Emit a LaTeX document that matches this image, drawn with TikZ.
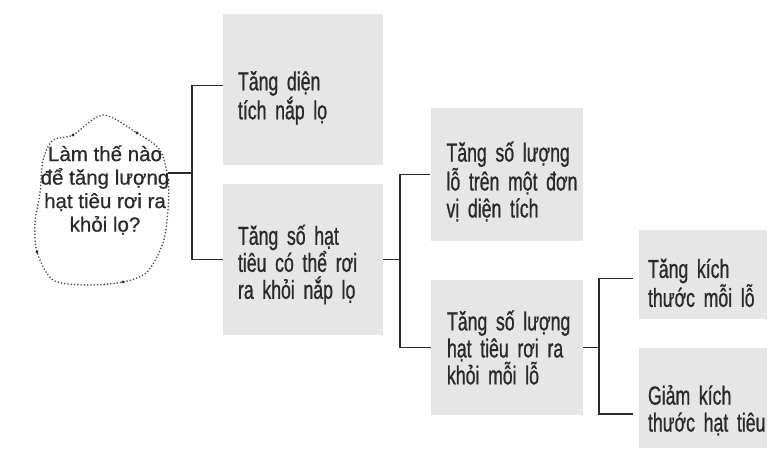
\documentclass[tikz,border=0pt]{standalone}
\usepackage{fontspec}
\XeTeXinputnormalization=1
\setmainfont{Liberation Sans}[FakeBold=0.6]
\newfontfamily\boxfont{Liberation Sans}[FakeStretch=0.68,WordSpace=0.7,FakeBold=0.8]
\usepackage{tikz}
\definecolor{boxgray}{HTML}{E6E6E6}
\definecolor{ink}{HTML}{2A2A2A}

\begin{document}
\begin{tikzpicture}[x=1pt,y=-1pt,
    box/.style={fill=boxgray,text=ink,align=left,inner xsep=0pt,text height=#1,font=\boxfont\fontsize{26}{27}\selectfont},
    box/.default=20pt,
    link/.style={line width=1.1pt,color=ink}]
              \useasboundingbox (0,0) rectangle (775,455);
              % cloud round the question
              \draw[line width=1.8pt,dash pattern=on 0pt off 3.3pt,line cap=round,color=black!70]
                plot[smooth cycle] coordinates{(73,135)(103,115)(137,133)(160,150)(168,180)(168,210)(163,243)(147,272)(123,282)(87,285)(53,280)(37,252)(35,223)(40,193)(43,160)(53,140)};
              \foreach \p in {(73,135),(137,133),(168,180),(37,252),(123,282)} \fill[ink] \p circle (1.6pt);
              \node[text=ink,align=center,font=\fontsize{20.5}{23.5}\selectfont](q)at(105,190){Làm thế nào\\để tăng lượng\\hạt tiêu rơi ra\\khỏi lọ?};
              % boxes
              \node[box=36pt,minimum width=160pt,minimum height=151pt,text width=130pt](a)at(303,89.5){Tăng~diện\\tích~nắp~lọ};
              \node[box=30pt,minimum width=160pt,minimum height=151pt,text width=130pt](b)at(303,259.5){Tăng~số~hạt\\tiêu~có~thể~rơi\\ra~khỏi~nắp~lọ};
              \node[box=34pt,minimum width=152pt,minimum height=133pt,text width=120pt](c)at(506.5,174.5){Tăng~số~lượng\\lỗ~trên~một~đơn\\vị~diện~tích};
              \node[box,minimum width=152pt,minimum height=135pt,text width=120pt](d)at(507,347.5){Tăng~số~lượng\\hạt~tiêu~rơi~ra\\khỏi~mỗi~lỗ};
              \node[box=36pt,minimum width=128pt,minimum height=89pt,text width=110pt](e)at(703,274.5){Tăng~kích\\thước~mỗi~lỗ};
              \node[box=44pt,minimum width=128pt,minimum height=100pt,text width=110pt](f)at(703,398){Giảm~kích\\thước~hạt~tiêu};
              % connectors
              \coordinate (qe) at (168,173);
              \coordinate (j1) at (192,173);
              \coordinate (j2) at (400,259.5);
              \coordinate (j3) at (599,347.5);
              \draw[link](qe)--(j1);
              \draw[link]([yshift=4pt]a.west)-|(j1)|-(b.west);
              \draw[link](b.east)--(j2);
              \draw[link](c.west)-|(j2)|-(d.west);
              \draw[link](d.east)--(j3);
              \draw[link,shorten <=6pt,shorten >=6pt]([yshift=-4pt]e.west)-|(j3)|-([yshift=-16pt]f.west);
            \end{tikzpicture}
\end{document}
